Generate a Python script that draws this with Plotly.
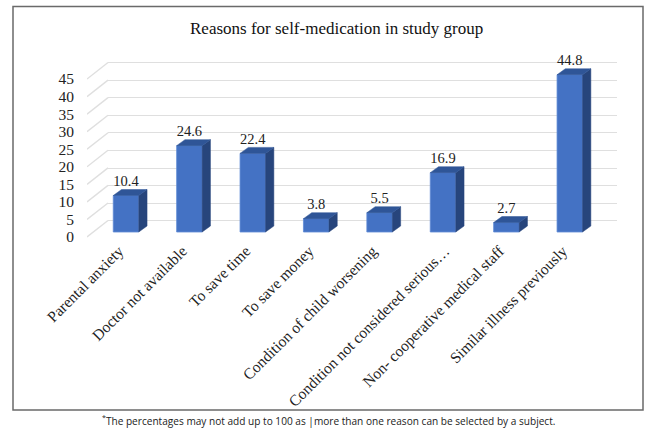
import plotly.graph_objects as go

categories = ["Parental anxiety", "Doctor not available", "To save time", "To save money",
              "Condition of child worsening", "Condition not considered serious…",
              "Non- cooperative medical staff", "Similar illness previously"]
values = [10.4, 24.6, 22.4, 3.8, 5.5, 16.9, 2.7, 44.8]
y_ticks = [0, 5, 10, 15, 20, 25, 30, 35, 40, 45]
title_text = "Reasons for self-medication in study group"
foot_text = "<sup>*</sup>The percentages may not add up to 100 as |more than one reason can be selected by a subject."

W, H = 647, 430
PX_PER_UNIT = 3.51
PX_PER_CAT = 63.4
TOP, BOT = 45, 238
FIRST_CENTER = 126
LEFT, WALL, RIGHT = 87, 108, 617

def yrange(zero_px):
    return [(zero_px - BOT) / PX_PER_UNIT, (zero_px - TOP) / PX_PER_UNIT]

def xrange_():
    return [(LEFT - FIRST_CENTER) / PX_PER_CAT, (RIGHT - FIRST_CENTER) / PX_PER_CAT]

ydom = [1 - BOT / H, 1 - TOP / H]
SERIF = "Liberation Serif"
GRID = "#dfdfdf"
w = 25.5 / PX_PER_CAT
dx = 8.3 / PX_PER_CAT
dy = 6 / PX_PER_UNIT
idx = list(range(len(categories)))
# the truncated label sits a little to the right of its bar in the reference
label_pos = [i + (9 / PX_PER_CAT if c.endswith("…") else 0) for i, c in zip(idx, categories)]

fig = go.Figure()

# carrier for the back wall subplot, whose axis draws the gridlines
fig.add_trace(go.Scatter(x=[0], y=[0], mode="markers", marker=dict(opacity=0), xaxis="x", yaxis="y", hoverinfo="skip"))

# depth lines joining the front axis to the back wall
wall_dx = (WALL - LEFT) / PX_PER_CAT
wall_dy = 16.5 / PX_PER_UNIT
dxs, dys = [], []
for t in y_ticks:
    dxs += [xrange_()[0], xrange_()[0] + wall_dx, None]
    dys += [t, t + wall_dy, None]
fig.add_trace(go.Scatter(x=dxs, y=dys, mode="lines", xaxis="x2", yaxis="y3",
                         line=dict(color=GRID, width=1.4), hoverinfo="skip"))

# front faces
fig.add_trace(go.Bar(x=idx, y=values, width=w, xaxis="x2", yaxis="y2",
                     marker=dict(color="#4472C4", line=dict(color="#5f8bd6", width=0.8))))

# side and top faces
sx, sy, tx, ty = [], [], [], []
for i, v in zip(idx, values):
    l, r = i - w / 2, i + w / 2
    sx += [r, r + dx, r + dx, r, r, None]
    sy += [0, dy, v + dy, v, 0, None]
    tx += [l, r, r + dx, l + dx, l, None]
    ty += [v, v, v + dy, v + dy, v, None]
fig.add_trace(go.Scatter(x=sx, y=sy, mode="lines", fill="toself", fillcolor="#27457c",
                         line=dict(color="#27457c", width=0.5), xaxis="x2", yaxis="y2", hoverinfo="skip"))
fig.add_trace(go.Scatter(x=tx, y=ty, mode="lines", fill="toself", fillcolor="#2f5597",
                         line=dict(color="#2f5597", width=0.5), xaxis="x2", yaxis="y2", hoverinfo="skip"))

# value labels
fig.add_trace(go.Scatter(x=idx, y=[v + dy for v in values], text=[f"{v:.1f}" for v in values],
                         mode="text", textposition="top center", cliponaxis=False,
                         textfont=dict(family=SERIF, size=14.5, color="#222222"),
                         xaxis="x2", yaxis="y2", hoverinfo="skip"))

fig.update_layout(
    template="none",
    width=W, height=H, autosize=False, showlegend=False, barmode="overlay",
    margin=dict(l=0, r=0, t=0, b=0, autoexpand=False), paper_bgcolor="white", plot_bgcolor="rgba(0,0,0,0)",
    font=dict(family=SERIF, color="#222222"),
    xaxis=dict(domain=[WALL / W, RIGHT / W], range=[0, 1], visible=False, anchor="y", automargin=False),
    yaxis=dict(domain=ydom, range=yrange(220.7), tickmode="array", tickvals=y_ticks,
               showgrid=True, gridcolor=GRID, gridwidth=1.4, zeroline=False, showticklabels=False,
               showline=False, ticks="", anchor="x", automargin=False),
    xaxis2=dict(domain=[LEFT / W, RIGHT / W], range=xrange_(), tickmode="array", tickvals=label_pos,
                ticktext=categories, tickangle=-45, showgrid=False, zeroline=False, showline=False,
                ticks="", tickfont=dict(family=SERIF, size=15.5, color="#222222"), anchor="y2",
                automargin=False, ticklabelshift=-7),
    yaxis2=dict(domain=ydom, range=yrange(232), showgrid=False, zeroline=False, showticklabels=False,
                showline=False, ticks="", anchor="x2", automargin=False),
    yaxis3=dict(domain=ydom, range=yrange(237), overlaying="y2", tickmode="array", tickvals=y_ticks,
                showgrid=False, zeroline=False, showline=False, ticks="", anchor="x2", side="left", automargin=False,
                ticklabelstandoff=12, tickfont=dict(family=SERIF, size=15.5, color="#222222")),
    shapes=[dict(type="rect", xref="paper", yref="paper", x0=13 / W, x1=643 / W,
                 y0=1 - 410 / H, y1=1 - 6.5 / H, line=dict(color="#6a6a6a", width=1.5), fillcolor="rgba(0,0,0,0)")],
    annotations=[
        dict(text=title_text, xref="paper", yref="paper", x=337 / W, y=1 - 29 / H, showarrow=False,
             xanchor="center", yanchor="middle", font=dict(family=SERIF, size=17, color="#111111")),
        dict(text=foot_text, xref="paper", yref="paper", x=328 / W, y=1 - 420.5 / H, showarrow=False,
             xanchor="center", yanchor="middle", font=dict(family="Open Sans", size=10.1, color="#222222")),
    ],
)

fig.write_html("out.html", config=dict(displayModeBar=False),
               post_script="document.body.style.margin='0';document.body.style.overflow='hidden';")
